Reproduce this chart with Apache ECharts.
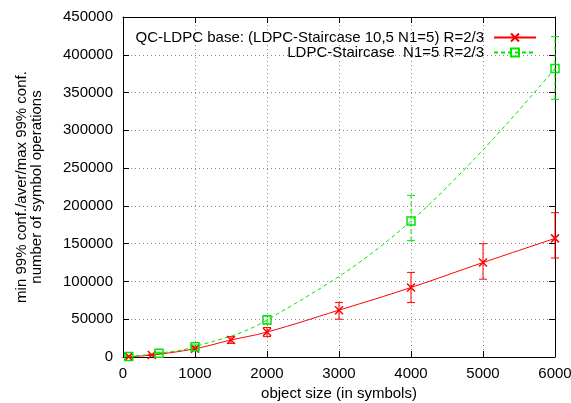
<!DOCTYPE html>
<html>
<head>
<meta charset="utf-8">
<script src="https://cdn.jsdelivr.net/npm/echarts@6/dist/echarts.min.js"></script>
<style>
  html, body { margin: 0; padding: 0; background: #fff; }
  #chart { width: 571px; height: 403px; }
</style>
</head>
<body>
<div id="chart"></div>
<script>
const redName = 'QC-LDPC base: (LDPC-Staircase 10,5 N1=5) R=2/3'
const greenName = 'LDPC-Staircase  N1=5 R=2/3'

// red: object size, average, min 99% conf, max 99% conf
const redX = [80, 400, 1000, 1500, 2000, 3000, 4000, 5000, 6000]
const redAvg = [500, 2600, 11000, 22500, 33000, 62000, 92000, 125000, 157000]
const redLow = [300, 2000, 9000, 18000, 27000, 50000, 72000, 103000, 131000]
const redHigh = [800, 3300, 14000, 27000, 39000, 72000, 112000, 150000, 191000]

// green
const greenX = [80, 500, 1000, 2000, 4000, 6000]
const greenAvg = [600, 5000, 13600, 49000, 180000, 382000]
const greenLow = [400, 4000, 11000, 44000, 154000, 341000]
const greenHigh = [900, 6200, 16000, 55000, 214000, 424000]

const yMax = 450000

const RED = '#ff0000'
const GREEN = '#00e600'
const FONT = 'Liberation Sans'

const chart = echarts.init(document.getElementById('chart'))

function zip(xs, ys) {
  return xs.map((x, i) => [x, ys[i]])
}

function errorBars(color, dashed) {
  return function (params, api) {
    const x = api.value(0)
    const lo = api.coord([x, api.value(1)])
    const hi = api.coord([x, api.value(2)])
    const cap = 4
    const style = { stroke: color, lineWidth: 1, lineDash: dashed ? [4, 3] : null }
    return {
      type: 'group',
      children: [
        { type: 'line', shape: { x1: lo[0], y1: lo[1], x2: hi[0], y2: hi[1] }, style: style },
        { type: 'line', shape: { x1: lo[0] - cap, y1: lo[1], x2: lo[0] + cap, y2: lo[1] }, style: { stroke: color, lineWidth: 1 } },
        { type: 'line', shape: { x1: hi[0] - cap, y1: hi[1], x2: hi[0] + cap, y2: hi[1] }, style: { stroke: color, lineWidth: 1 } }
      ]
    }
  }
}

const axisText = { color: '#000', fontFamily: FONT, fontSize: 15 }
const plain = v => String(v)

const option = {
  animation: false,
  backgroundColor: '#fff',
  grid: { left: 123, right: 16, top: 17, bottom: 46, outerBoundsMode: 'none' },
  legend: {
    orient: 'vertical',
    right: 29,
    top: 25,
    align: 'right',
    itemWidth: 42,
    itemHeight: 10,
    itemGap: 0,
    textStyle: Object.assign({ lineHeight: 13, padding: [0, 5, 0, 0] }, axisText),
    data: [redName, greenName]
  },
  xAxis: [{
    type: 'value',
    min: 0,
    max: 6000,
    interval: 1000,
    name: 'object size (in symbols)',
    nameLocation: 'middle',
    nameGap: 27,
    nameTextStyle: axisText,
    axisLine: { lineStyle: { color: '#000', width: 1 } },
    axisTick: { inside: true, length: 6, lineStyle: { color: '#000' } },
    axisLabel: Object.assign({ margin: 9, formatter: plain }, axisText),
    splitLine: { show: true, lineStyle: { color: '#888', type: [1, 3] } }
  }, {
    type: 'value',
    position: 'top',
    min: 0,
    max: 6000,
    interval: 1000,
    axisLine: { onZero: false, lineStyle: { color: '#000', width: 1 } },
    axisTick: { inside: true, length: 6, lineStyle: { color: '#000' } },
    axisLabel: { show: false },
    splitLine: { show: false }
  }],
  yAxis: [{
    type: 'value',
    min: 0,
    max: yMax,
    interval: 50000,
    name: 'min 99% conf./aver/max 99% conf.\nnumber of symbol operations',
    nameLocation: 'middle',
    nameGap: 79,
    nameTextStyle: Object.assign({ lineHeight: 15 }, axisText),
    axisLine: { show: true, lineStyle: { color: '#000', width: 1 } },
    axisTick: { show: true, inside: true, length: 6, lineStyle: { color: '#000' } },
    axisLabel: Object.assign({ margin: 10, formatter: plain }, axisText),
    splitLine: { show: true, lineStyle: { color: '#888', type: [1, 3] } }
  }, {
    type: 'value',
    position: 'right',
    min: 0,
    max: yMax,
    interval: 50000,
    axisLine: { show: true, onZero: false, lineStyle: { color: '#000', width: 1 } },
    axisTick: { show: true, inside: true, length: 6, lineStyle: { color: '#000' } },
    axisLabel: { show: false },
    splitLine: { show: false }
  }],
  series: [
    {
      name: redName,
      type: 'line',
      smooth: 0.4,
      data: zip(redX, redAvg),
      symbol: 'path://M0,0L10,10M0,10L10,0',
      symbolSize: 8,
      itemStyle: { color: RED, borderColor: RED, borderWidth: 1.5 },
      lineStyle: { color: RED, width: 1 },
      z: 4
    },
    {
      name: greenName,
      type: 'line',
      smooth: 0.4,
      data: zip(greenX, greenAvg),
      symbol: 'rect',
      symbolSize: 8,
      itemStyle: { color: 'rgba(0,0,0,0)', borderColor: GREEN, borderWidth: 1.5 },
      lineStyle: { color: GREEN, width: 1, type: [4, 3] },
      z: 4
    },
    {
      name: redName,
      type: 'custom',
      renderItem: errorBars(RED, false),
      data: redX.map((x, i) => [x, redLow[i], redHigh[i]]),
      z: 3
    },
    {
      name: greenName,
      type: 'custom',
      renderItem: errorBars(GREEN, true),
      data: greenX.map((x, i) => [x, greenLow[i], greenHigh[i]]),
      z: 3
    }
  ]
}

chart.setOption(option)
</script>
</body>
</html>
